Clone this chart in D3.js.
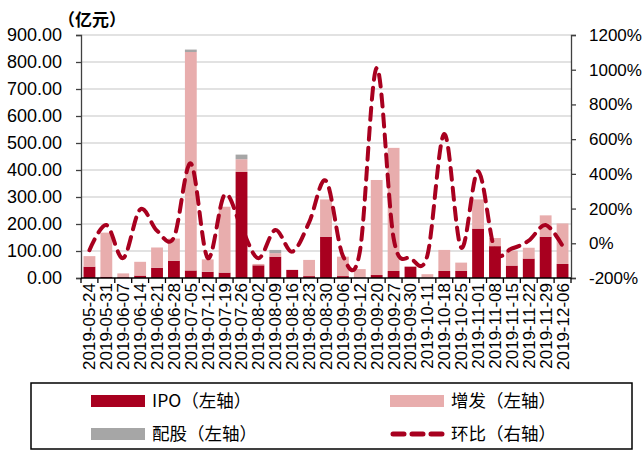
<!DOCTYPE html>
<html>
<head>
<meta charset="utf-8">
<script src="https://cdn.jsdelivr.net/npm/d3@7"></script>
<style>
  body { margin: 0; background: #fff; }
  svg { font-family: "Liberation Sans", Arial, sans-serif; }
</style>
</head>
<body>
<div id="chart"></div>
<script>
// weekly dates on the x axis
const dates = ['2019-05-24','2019-05-31','2019-06-07','2019-06-14','2019-06-21','2019-06-28',
  '2019-07-05','2019-07-12','2019-07-19','2019-07-26','2019-08-02','2019-08-09','2019-08-16',
  '2019-08-23','2019-08-30','2019-09-06','2019-09-12','2019-09-20','2019-09-27','2019-09-30',
  '2019-10-11','2019-10-18','2019-10-25','2019-11-01','2019-11-08','2019-11-15','2019-11-22',
  '2019-11-29','2019-12-06'];
// amounts in 亿元
const ipo = [42,5,3,9,38,64,28,23,20,393,47,79,30,7,153,7,2,11,26,42,0,26,26,183,118,46,72,153,52];
const zengfa = [39,163,14,51,75,82,809,46,244,47,5,13,0,60,138,72,31,352,456,0,14,78,31,108,30,55,40,79,150];
const peigu = [0,0,0,0,0,0,9,0,0,17,0,12,0,0,0,0,0,0,0,0,0,0,0,0,0,0,0,0,0];
// 环比, percent
const huanbi = [-40,105,-85,195,72,34,460,-85,280,89,-86,77,-48,120,360,-72,-50,1010,30,-85,-70,630,-25,415,-42,-30,15,105,-15];

const leftTicks = d3.range(0, 901, 100);
const rightTicks = d3.range(-200, 1201, 200);

const width = 644, height = 451;
const margin = { top: 35, right: 73, bottom: 173, left: 81 };

const svg = d3.select('#chart').append('svg')
  .attr('width', width).attr('height', height);

const x = d3.scaleBand()
  .domain(dates)
  .range([margin.left, width - margin.right])
  .paddingInner(0.3).paddingOuter(0.15);

const y = d3.scaleLinear().domain([0, 900]).range([height - margin.bottom, margin.top]);
const y2 = d3.scaleLinear().domain([-200, 1200]).range([height - margin.bottom, margin.top]);

// gridlines
svg.append('g')
  .selectAll('line')
  .data(leftTicks.slice(1))
  .join('line')
  .attr('x1', margin.left).attr('x2', width - margin.right)
  .attr('y1', d => y(d)).attr('y2', d => y(d))
  .attr('stroke', '#d9d9d9').attr('stroke-width', 1.5);

// stacked bars
const rows = dates.map((d, i) => ({ date: d, ipo: ipo[i], zengfa: zengfa[i], peigu: peigu[i] }));
const stack = d3.stack().keys(['ipo', 'zengfa', 'peigu'])(rows);
const colors = { ipo: '#a8001f', zengfa: '#e8adad', peigu: '#a6a6a6' };

svg.append('g')
  .selectAll('g')
  .data(stack)
  .join('g')
  .attr('fill', s => colors[s.key])
  .selectAll('rect')
  .data(s => s)
  .join('rect')
  .attr('x', d => x(d.data.date))
  .attr('y', d => y(d[1]))
  .attr('width', x.bandwidth())
  .attr('height', d => y(d[0]) - y(d[1]));

// 环比 line, smoothed like the excel one
const line = d3.line()
  .x((d, i) => x(dates[i]) + x.bandwidth() / 2)
  .y(d => y2(d))
  .curve(d3.curveCardinal.tension(0));

svg.append('path')
  .datum(huanbi)
  .attr('d', line)
  .attr('fill', 'none')
  .attr('stroke', '#a8001f')
  .attr('stroke-width', 4)
  .attr('stroke-dasharray', '12,8')
  .attr('stroke-linecap', 'round');

// axes
const bottom = height - margin.bottom;

svg.append('g')
  .attr('transform', `translate(${margin.left},0)`)
  .call(d3.axisLeft(y).tickValues(leftTicks).tickFormat(d3.format('.2f')).tickSize(5).tickPadding(14))
  .call(g => g.selectAll('path, line').attr('stroke', '#404040').attr('stroke-width', 1.3))
  .call(g => g.selectAll('text').attr('font-size', '18px').attr('fill', '#000').attr('font-family', null));

svg.append('g')
  .attr('transform', `translate(${width - margin.right},0)`)
  .call(d3.axisRight(y2).tickValues(rightTicks).tickFormat(d => d + '%').tickSize(5).tickPadding(13))
  .call(g => g.selectAll('path, line').attr('stroke', '#404040').attr('stroke-width', 1.3))
  .call(g => g.selectAll('text').attr('font-size', '17px').attr('fill', '#000').attr('font-family', null));

// bottom axis: ticks between categories, rotated labels
const xg = svg.append('g');
xg.append('line')
  .attr('x1', margin.left).attr('x2', width - margin.right)
  .attr('y1', bottom).attr('y2', bottom)
  .attr('stroke', '#000').attr('stroke-width', 1.5);
xg.selectAll('.tk')
  .data(d3.range(dates.length + 1))
  .join('line')
  .attr('class', 'tk')
  .attr('x1', i => margin.left + i * (width - margin.right - margin.left) / dates.length)
  .attr('x2', i => margin.left + i * (width - margin.right - margin.left) / dates.length)
  .attr('y1', bottom).attr('y2', bottom + 5)
  .attr('stroke', '#000').attr('stroke-width', 1.3);
xg.selectAll('text')
  .data(dates)
  .join('text')
  .attr('transform', d => `translate(${x(d) + x.bandwidth() / 2},${bottom + 5}) rotate(-90)`)
  .attr('text-anchor', 'end')
  .attr('dy', '0.35em')
  .attr('font-size', '17px')
  .text(d => d);

// unit label
svg.append('text')
  .attr('x', 58).attr('y', 26)
  .attr('font-family', '"Noto Sans CJK SC", sans-serif')
  .attr('font-weight', 'bold')
  .attr('font-size', '17px')
  .text('（亿元）');

// legend
const lg = svg.append('g');
lg.append('rect')
  .attr('x', 31).attr('y', 383).attr('width', 601).attr('height', 66)
  .attr('fill', 'none').attr('stroke', '#000').attr('stroke-width', 1.5);

const legendItems = [
  { label: 'IPO（左轴）', color: colors.ipo, type: 'bar', x: 91, y: 401 },
  { label: '增发（左轴）', color: colors.zengfa, type: 'bar', x: 390, y: 401 },
  { label: '配股（左轴）', color: colors.peigu, type: 'bar', x: 91, y: 434 },
  { label: '环比（右轴）', color: '#a8001f', type: 'line', x: 390, y: 434 }
];
legendItems.forEach(it => {
  if (it.type === 'bar') {
    lg.append('rect').attr('x', it.x).attr('y', it.y - 6).attr('width', 54).attr('height', 12).attr('fill', it.color);
  } else {
    lg.append('line').attr('x1', it.x + 3).attr('x2', it.x + 52).attr('y1', it.y).attr('y2', it.y)
      .attr('stroke', it.color).attr('stroke-width', 5).attr('stroke-linecap', 'round')
      .attr('stroke-dasharray', '11,8');
  }
  lg.append('text')
    .attr('x', it.x + 61).attr('y', it.y).attr('dy', '0.36em')
    .attr('font-family', '"Noto Sans CJK SC", sans-serif')
    .attr('font-size', '17.5px')
    .text(it.label);
});
</script>
</body>
</html>
